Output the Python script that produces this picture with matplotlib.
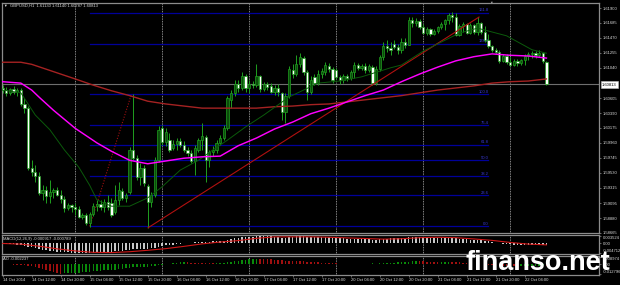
import matplotlib
matplotlib.use('Agg')
import matplotlib.pyplot as plt
from matplotlib.ticker import MultipleLocator
import numpy as np

W, H = 620, 285
plt.rcParams['font.family'] = ['Liberation Sans', 'DejaVu Sans']

# ---------------- data (GBPUSD H1) ----------------
opens = [1.6075, 1.6072, 1.6068, 1.6074, 1.6069, 1.6072, 1.6052, 1.6046, 1.5960, 1.5954,
         1.5948, 1.5924, 1.5928, 1.5920, 1.5925, 1.5928, 1.5921, 1.5915, 1.5902, 1.5907,
         1.5904, 1.5901, 1.5889, 1.5892, 1.5881, 1.5894, 1.5905, 1.5908, 1.5904, 1.5911,
         1.5910, 1.5897, 1.5914, 1.5927, 1.5917, 1.5925, 1.5986, 1.5974, 1.5947, 1.5960,
         1.5934, 1.5911, 1.5921, 1.5971, 1.6017, 1.5997, 1.6000, 1.5989, 1.5994, 1.5999,
         1.5993, 1.5986, 1.5982, 1.5970, 1.5986, 1.6000, 1.6004, 1.5971, 1.5983, 1.5986,
         1.5996, 1.6003, 1.6017, 1.6058, 1.6068, 1.6081, 1.6075, 1.6092, 1.6075, 1.6081,
         1.6079, 1.6092, 1.6074, 1.6081, 1.6078, 1.6069, 1.6075, 1.6068, 1.6040, 1.6064,
         1.6101, 1.6095, 1.6109, 1.6118, 1.6098, 1.6069, 1.6091, 1.6082, 1.6095, 1.6098,
         1.6107, 1.6102, 1.6101, 1.6091, 1.6086, 1.6092, 1.6089, 1.6098, 1.6108, 1.6104,
         1.6107, 1.6101, 1.6105, 1.6082, 1.6102, 1.6120, 1.6135, 1.6132, 1.6138, 1.6134,
         1.6130, 1.6141, 1.6137, 1.6173, 1.6168, 1.6171, 1.6163, 1.6154, 1.6160, 1.6153,
         1.6157, 1.6163, 1.6167, 1.6173, 1.6180, 1.6177, 1.6151, 1.6164, 1.6167, 1.6154,
         1.6166, 1.6156, 1.6168, 1.6156, 1.6144, 1.6135, 1.6130, 1.6127, 1.6114, 1.6121,
         1.6112, 1.6108, 1.6114, 1.6111, 1.6115, 1.6121, 1.6124, 1.6125, 1.6122, 1.6125,
         1.61130]
highs = [1.6079, 1.6076, 1.6075, 1.6078, 1.6075, 1.6075, 1.6061, 1.6049, 1.5971, 1.5964,
         1.5954, 1.5935, 1.5934, 1.5943, 1.5931, 1.5933, 1.5928, 1.5920, 1.5910, 1.5908,
         1.5910, 1.5905, 1.5895, 1.5895, 1.5897, 1.5910, 1.5914, 1.5914, 1.5915, 1.5921,
         1.5917, 1.5935, 1.5940, 1.5931, 1.5924, 1.5990, 1.6066, 1.5979, 1.5967, 1.5964,
         1.5937, 1.5925, 1.5976, 1.6020, 1.6022, 1.6017, 1.6010, 1.6000, 1.6003, 1.6003,
         1.5999, 1.5990, 1.5986, 1.5993, 1.6003, 1.6025, 1.6007, 1.5986, 1.5992, 1.6000,
         1.6007, 1.6022, 1.6064, 1.6072, 1.6086, 1.6086, 1.6098, 1.6095, 1.6086, 1.6085,
         1.6109, 1.6094, 1.6084, 1.6084, 1.6082, 1.6079, 1.6081, 1.6069, 1.6068, 1.6107,
         1.6109, 1.6122, 1.6125, 1.6121, 1.6101, 1.6092, 1.6095, 1.6101, 1.6104, 1.6112,
         1.6111, 1.6105, 1.6104, 1.6094, 1.6095, 1.6095, 1.6101, 1.6112, 1.6111, 1.6109,
         1.6111, 1.6109, 1.6108, 1.6107, 1.6122, 1.6141, 1.6144, 1.6141, 1.6144, 1.6138,
         1.6147, 1.6147, 1.6177, 1.6177, 1.6176, 1.6174, 1.6167, 1.6163, 1.6161, 1.6160,
         1.6164, 1.6170, 1.6174, 1.6183, 1.6184, 1.6183, 1.6167, 1.6170, 1.6168, 1.6168,
         1.6167, 1.6177, 1.6170, 1.6164, 1.6153, 1.6137, 1.6132, 1.6130, 1.6124, 1.6124,
         1.6120, 1.6117, 1.6117, 1.6117, 1.6124, 1.6127, 1.6128, 1.6128, 1.6130, 1.6127,
         1.61140]
lows = [1.6068, 1.6064, 1.6065, 1.6066, 1.6064, 1.6049, 1.6039, 1.5957, 1.5948, 1.5940,
        1.5921, 1.5914, 1.5910, 1.5910, 1.5917, 1.5920, 1.5910, 1.5897, 1.5900, 1.5897,
        1.5892, 1.5888, 1.5887, 1.5878, 1.5875, 1.5891, 1.5898, 1.5900, 1.5897, 1.5900,
        1.5889, 1.5894, 1.5907, 1.5914, 1.5911, 1.5923, 1.5971, 1.5943, 1.5935, 1.5934,
        1.5874, 1.5904, 1.5918, 1.5969, 1.5993, 1.5992, 1.5983, 1.5986, 1.5986, 1.5990,
        1.5983, 1.5977, 1.5967, 1.5950, 1.5983, 1.5986, 1.5940, 1.5961, 1.5977, 1.5982,
        1.5993, 1.6000, 1.6015, 1.6046, 1.6064, 1.6069, 1.6072, 1.6069, 1.6068, 1.6075,
        1.6076, 1.6069, 1.6071, 1.6072, 1.6068, 1.6065, 1.6064, 1.6029, 1.6025, 1.6061,
        1.6089, 1.6092, 1.6105, 1.6094, 1.6058, 1.6066, 1.6079, 1.6079, 1.6089, 1.6094,
        1.6098, 1.6082, 1.6088, 1.6081, 1.6082, 1.6085, 1.6086, 1.6089, 1.6101, 1.6101,
        1.6097, 1.6098, 1.6079, 1.6079, 1.6099, 1.6115, 1.6127, 1.6122, 1.6131, 1.6124,
        1.6125, 1.6132, 1.6137, 1.6163, 1.6164, 1.6160, 1.6153, 1.6151, 1.6150, 1.6151,
        1.6154, 1.6160, 1.6158, 1.6167, 1.6170, 1.6150, 1.6150, 1.6156, 1.6153, 1.6153,
        1.6153, 1.6151, 1.6153, 1.6141, 1.6132, 1.6127, 1.6124, 1.6111, 1.6112, 1.6109,
        1.6107, 1.6107, 1.6107, 1.6108, 1.6108, 1.6115, 1.6118, 1.6118, 1.6120, 1.6111,
        1.60787]
closes = [1.6072, 1.6068, 1.6074, 1.6069, 1.6072, 1.6052, 1.6046, 1.5960, 1.5954, 1.5948,
          1.5924, 1.5928, 1.5920, 1.5925, 1.5928, 1.5921, 1.5915, 1.5902, 1.5907, 1.5904,
          1.5901, 1.5889, 1.5892, 1.5881, 1.5894, 1.5905, 1.5908, 1.5904, 1.5911, 1.5904,
          1.5892, 1.5914, 1.5928, 1.5917, 1.5921, 1.5986, 1.5974, 1.5947, 1.5960, 1.5938,
          1.5911, 1.5921, 1.5971, 1.6015, 1.5997, 1.6012, 1.5986, 1.5994, 1.5999, 1.5993,
          1.5986, 1.5982, 1.5970, 1.5989, 1.6000, 1.6006, 1.5971, 1.5983, 1.5986, 1.5996,
          1.6003, 1.6017, 1.6061, 1.6068, 1.6081, 1.6075, 1.6092, 1.6075, 1.6081, 1.6079,
          1.6092, 1.6074, 1.6081, 1.6076, 1.6069, 1.6075, 1.6069, 1.6040, 1.6064, 1.6102,
          1.6095, 1.6109, 1.6120, 1.6098, 1.6069, 1.6086, 1.6082, 1.6095, 1.6099, 1.6108,
          1.6102, 1.6086, 1.6091, 1.6086, 1.6092, 1.6089, 1.6098, 1.6108, 1.6104, 1.6107,
          1.6101, 1.6107, 1.6082, 1.6102, 1.6120, 1.6135, 1.6132, 1.6130, 1.6134, 1.6130,
          1.6141, 1.6137, 1.6173, 1.6168, 1.6171, 1.6163, 1.6154, 1.6160, 1.6153, 1.6157,
          1.6163, 1.6167, 1.6173, 1.6180, 1.6177, 1.6151, 1.6164, 1.6167, 1.6154, 1.6166,
          1.6156, 1.6168, 1.6156, 1.6144, 1.6135, 1.6130, 1.6127, 1.6114, 1.6121, 1.6112,
          1.6108, 1.6114, 1.6111, 1.6115, 1.6121, 1.6124, 1.6125, 1.6122, 1.6125, 1.6114,
          1.60813]

# moving averages read at sample bars
ma_slow_bars = [0, 5, 8, 12, 16, 20, 25, 30, 35, 40, 45, 50, 55, 60, 65, 70, 75, 80, 85, 90,
                95, 100, 105, 110, 115, 120, 125, 130, 135, 140, 145, 150]
ma_slow = [1.6112, 1.6112, 1.6109, 1.6102, 1.6095, 1.6088, 1.6079, 1.6071, 1.6064, 1.6056,
           1.6052, 1.6049, 1.6046, 1.6046, 1.6046, 1.6046, 1.6048, 1.6049, 1.6051, 1.6052,
           1.6055, 1.6058, 1.6061, 1.6064, 1.6068, 1.6072, 1.6075, 1.6078, 1.6082, 1.6084,
           1.6085, 1.6088]
ma_mid_bars = [0, 5, 8, 10, 14, 20, 26, 30, 35, 40, 45, 50, 55, 60, 65, 70, 75, 80, 85, 90,
               95, 100, 105, 110, 115, 120, 125, 130, 135, 140, 145, 150]
ma_mid = [1.6084, 1.6082, 1.6072, 1.6062, 1.6043, 1.6017, 1.5996, 1.5984, 1.5971, 1.5966,
          1.5970, 1.5974, 1.5976, 1.5977, 1.5992, 1.6003, 1.6016, 1.6026, 1.6038, 1.6046,
          1.6055, 1.6064, 1.6072, 1.6084, 1.6095, 1.6105, 1.6114, 1.6120, 1.6124, 1.6122,
          1.6121, 1.6118]
ma_fast_bars = [0, 5, 9, 13, 17, 21, 24, 26, 30, 35, 40, 44, 49, 54, 58, 62, 67, 72, 79, 87,
                93, 99, 107, 110, 116, 126, 131, 139, 146, 150]
ma_fast = [1.6072, 1.6068, 1.6036, 1.6015, 1.5986, 1.5961, 1.5935, 1.5914, 1.5905, 1.5905,
           1.5917, 1.5933, 1.5957, 1.5971, 1.5986, 1.6000, 1.6019, 1.6036, 1.6062, 1.6082,
           1.6085, 1.6091, 1.6104, 1.6108, 1.6128, 1.6154, 1.6161, 1.6150, 1.6130, 1.6125]

# Fibonacci retracement
fib_levels = [0.0, 23.6, 38.2, 50.0, 61.8, 76.4, 100.0, 138.2, 161.8]
fib_low, fib_high = 1.5876, 1.6066
fib_anchor_bars = [24, 35.5]
fib_end_bar = 134
# trend line
trend_bars = [40.1, 131.4]
trend_prices = [1.5874, 1.6177]
bid_price = 1.60813

day_separator_bars = [20, 44, 68, 92, 116, 140]
time_tick_bars = [0, 8, 16, 24, 32, 40, 48, 56, 64, 72, 80, 88, 96, 104, 112, 120, 128, 136, 144]
time_tick_labels = ['14 Oct 2014', '14 Oct 12:00', '14 Oct 20:00', '15 Oct 04:00', '15 Oct 12:00',
                    '15 Oct 20:00', '16 Oct 04:00', '16 Oct 12:00', '16 Oct 20:00', '17 Oct 04:00',
                    '17 Oct 12:00', '17 Oct 20:00', '20 Oct 04:00', '20 Oct 12:00', '20 Oct 20:00',
                    '21 Oct 04:00', '21 Oct 12:00', '21 Oct 20:00', '22 Oct 04:00']
price_tick_labels = ['1.61900', '1.61685', '1.61470', '1.61255', '1.61040', '1.60605', '1.60390',
                     '1.60175', '1.59960', '1.59745', '1.59530', '1.59315', '1.59095', '1.58880',
                     '1.58665']

macd_hist = [-0.0002, -0.0003, -0.0004, -0.0005,
             -0.0007, -0.0009, -0.0012, -0.0016, -0.0020,
             -0.0024, -0.0028, -0.0031, -0.0034,
             -0.0036, -0.0038, -0.0040, -0.0041,
             -0.0043, -0.0044, -0.0045, -0.0046, -0.0046, -0.0047, -0.0047, -0.0046,
             -0.0045, -0.0044, -0.0043, -0.0042, -0.0041, -0.0040,
             -0.0039, -0.0037, -0.0036, -0.0034, -0.0031, -0.0029,
             -0.0028, -0.0027, -0.0026, -0.0026, -0.0024, -0.0021, -0.0016,
             -0.0013, -0.0010, -0.0008, -0.0006, -0.0004, -0.0002,
             0.0000, 0.0002, 0.0003, 0.0004, 0.0005, 0.0007,
             0.0007, 0.0008, 0.0009, 0.0010, 0.0011, 0.0013, 0.0017, 0.0021,
             0.0024, 0.0026, 0.0029, 0.0030, 0.0031, 0.0032, 0.0034,
             0.0034, 0.0034, 0.0034, 0.0033, 0.0032, 0.0031, 0.0027, 0.0027, 0.0030, 0.0032,
             0.0034, 0.0035, 0.0034, 0.0031, 0.0030, 0.0029, 0.0029, 0.0029, 0.0029, 0.0029, 0.0027,
             0.0026, 0.0025, 0.0024, 0.0023, 0.0023, 0.0023, 0.0022, 0.0022, 0.0021,
             0.0020, 0.0018, 0.0018, 0.0019, 0.0022, 0.0023, 0.0024, 0.0024, 0.0024, 0.0025,
             0.0025, 0.0029, 0.0031, 0.0032, 0.0031, 0.0030, 0.0029, 0.0028, 0.0027, 0.0026,
             0.0026, 0.0026, 0.0027, 0.0027, 0.0024, 0.0022, 0.0021, 0.0019, 0.0018, 0.0017,
             0.0017, 0.0015, 0.0012, 0.0009, 0.0006, 0.0003, 0.0000, -0.0002, -0.0004, -0.0005,
             -0.0006, -0.0007, -0.0007, -0.0007, -0.0007, -0.0007, -0.0007, -0.0007, -0.0008, -0.000917]
macd_signal_bars = [0, 5, 10, 15, 20, 25, 30, 35, 40, 45, 50, 55, 60, 65, 70, 75, 80, 85, 90, 95,
                    100, 105, 110, 115, 120, 125, 130, 135, 140, 145, 150]
macd_signal = [-0.0001, -0.0004, -0.0014, -0.0027, -0.0037, -0.0044, -0.0045, -0.0041, -0.0034,
               -0.0026, -0.0015, -0.0003, 0.0006, 0.0013, 0.0024, 0.0031, 0.0031, 0.0031, 0.0029,
               0.0026, 0.0023, 0.0020, 0.0022, 0.0027, 0.0029, 0.0027, 0.0021, 0.0014, 0.0004,
               -0.0004, -0.000789]
ao_values = [-0.0004, -0.0005, -0.0006, -0.0007, -0.0008, -0.0010, -0.0014, -0.0022,
             -0.0030, -0.0042, -0.0055, -0.0068, -0.0080, -0.0092, -0.0104, -0.0114, -0.0122,
             -0.0120, -0.0118, -0.0115, -0.0112, -0.0109, -0.0106, -0.0102, -0.0099, -0.0095,
             -0.0091, -0.0087, -0.0083, -0.0079, -0.0075, -0.0071, -0.0066, -0.0061, -0.0056, -0.0050, -0.0044,
             -0.0040, -0.0037, -0.0034, -0.0032, -0.0029, -0.0025, -0.0018, -0.0010,
             -0.0003, 0.0004, 0.0010, 0.0016, 0.0020, 0.0022,
             0.0021, 0.0019, 0.0017, 0.0015, 0.0013, 0.0011, 0.0010, 0.0009, 0.0010, 0.0012,
             0.0015, 0.0020, 0.0026, 0.0033, 0.0040, 0.0047, 0.0054, 0.0060, 0.0065, 0.0070,
             0.0069, 0.0066, 0.0063, 0.0060, 0.0056, 0.0052, 0.0048, 0.0044, 0.0042, 0.0040, 0.0038, 0.0036,
             0.0034, 0.0031, 0.0028, 0.0025, 0.0022, 0.0019, 0.0016, 0.0013,
             0.0010, 0.0008, 0.0006, 0.0005, 0.0004, 0.0004, 0.0005, 0.0006, 0.0006, 0.0005,
             0.0006, 0.0007, 0.0006, 0.0008, 0.0011, 0.0014, 0.0017, 0.0019, 0.0021, 0.0024,
             0.0027, 0.0031, 0.0035, 0.0036, 0.0035, 0.0033, 0.0031, 0.0029, 0.0027, 0.0026,
             0.0026, 0.0027, 0.0028, 0.0027, 0.0024, 0.0020, 0.0016, 0.0012, 0.0008, 0.0004,
             0.0001, -0.0003, -0.0007, -0.0011, -0.0015, -0.0019, -0.0022, -0.0025, -0.0028, -0.0030,
             -0.0031, -0.0030, -0.0029, -0.0028, -0.0026, -0.0024, -0.0022, -0.0020, -0.0019, -0.002237]

# ---------------- styling ----------------
BG = 'black'
FRAME = '#8c8c8c'
TXT = '#dcdcdc'
WICK = '#1f9f1f'
BULL = '#0c4d0c'
FS = 3.0

def px_axes(top, bottom):
    return [2 / W, 1 - bottom / H, 597 / W, (bottom - top) / H]

XMIN, XMAX = -0.193, 164.497

fig = plt.figure(figsize=(W / 100, H / 100), dpi=100, facecolor=BG)
ax = fig.add_axes(px_axes(3, 233), facecolor=BG)
mac = fig.add_axes(px_axes(235, 254), facecolor=BG)
aox = fig.add_axes(px_axes(256, 275), facecolor=BG)

for a in (ax, mac, aox):
    a.set_xlim(XMIN, XMAX)
    for s in a.spines.values():
        s.set_color(FRAME)
        s.set_linewidth(0.9)
    a.yaxis.tick_right()
    a.tick_params(axis='y', which='both', direction='out', colors='#b0b0b0',
                  labelcolor=TXT, labelsize=FS, length=1.5, width=0.4, pad=1.0)
    a.tick_params(axis='x', which='both', bottom=False, labelbottom=False)
    for b in day_separator_bars:
        a.axvline(b, color='#b4b4b4', lw=0.6, ls=(0, (1, 1)), zorder=1)

# main panel
ax.set_ylim(1.586645, 1.619719)
ax.set_yticks([float(t) for t in price_tick_labels])
ax.set_yticklabels(price_tick_labels)
ax.yaxis.set_minor_locator(MultipleLocator(0.00043))
ax.tick_params(axis='y', which='minor', length=0.8, width=0.3)

idx = np.arange(len(closes))
o = np.array(opens); c = np.array(closes); h = np.array(highs); l = np.array(lows)

# fibonacci levels
rng = fib_high - fib_low
for lev in fib_levels:
    p = fib_low + rng * lev / 100.0
    ax.plot([fib_anchor_bars[0], fib_end_bar], [p, p], color='#00009a', lw=0.9, zorder=2)
    ax.text(fib_end_bar, p + 0.00004, f'{lev:.1f}', color='#3a3ad8', fontsize=FS,
            ha='right', va='bottom', zorder=2)
ax.plot(fib_anchor_bars, [fib_low, fib_high], color='#a01010', lw=0.8, ls=(0, (1, 1.5)), zorder=2)

# bid line
ax.axhline(bid_price, color='#6e6e6e', lw=0.8, zorder=2)

# candles
ax.vlines(idx, l, h, color=WICK, lw=0.7, zorder=4)
bull = c >= o
bot = np.minimum(o, c)
hgt = np.maximum(np.abs(c - o), 0.00005)
ax.bar(idx[bull], hgt[bull], bottom=bot[bull], width=0.62, color=BULL, edgecolor=WICK,
       linewidth=0.5, zorder=5)
ax.bar(idx[~bull], hgt[~bull], bottom=bot[~bull], width=0.62, color='white', edgecolor=WICK,
       linewidth=0.5, zorder=5)

# trend line & moving averages
ax.plot(trend_bars, trend_prices, color='#b01010', lw=0.8, zorder=6)
ax.plot(ma_slow_bars, ma_slow, color='#a52222', lw=1.0, zorder=6)
ax.plot(ma_fast_bars, ma_fast, color='#0b5a0b', lw=0.7, zorder=6)
ax.plot(ma_mid_bars, ma_mid, color='#ff00ff', lw=1.05, zorder=7)

# MACD panel
mac.set_ylim(-0.005197, 0.004008)
mac.bar(idx, macd_hist, width=0.42, color='#c8c8c8', zorder=3)
mac.plot(macd_signal_bars, macd_signal, color='#d01818', lw=0.8, zorder=4)
mac.set_yticks([0.003524, 0.0, -0.004712])
mac.set_yticklabels(['0.003524', '0.00', '-0.004712'])
labs = mac.get_yticklabels()
labs[0].set_va('top'); labs[2].set_va('bottom')
mac.text(0.002, 0.8, 'MACD(12,26,9) -0.000917 -0.000789', transform=mac.transAxes,
         color=TXT, fontsize=FS, va='center', ha='left')

# AO panel
aox.set_ylim(-0.014077, 0.010255)
ao = np.array(ao_values)
ao_col = ['#a01010'] + ['#0a8a0a' if ao[i] >= ao[i - 1] else '#a01010' for i in range(1, len(ao))]
aox.bar(idx, ao, width=0.42, color=ao_col, zorder=3)
aox.set_yticks([0.008974, 0.0, -0.012796])
aox.set_yticklabels(['0.008974', '0.00', '-0.012796'])
labs = aox.get_yticklabels()
labs[0].set_va('top'); labs[2].set_va('bottom')
aox.text(0.002, 0.85, 'AO -0.002237', transform=aox.transAxes,
         color=TXT, fontsize=FS, va='center', ha='left')
aox.set_xticks(time_tick_bars)
aox.set_xticklabels(time_tick_labels)
aox.tick_params(axis='x', bottom=True, labelbottom=True, direction='out', length=1.5,
                width=0.4, colors='#b0b0b0', labelcolor=TXT, labelsize=FS, pad=1.0)
for t in aox.get_xticklabels():
    t.set_ha('left')

# header and markers
fig.text(3 / W, 1 - 5.5 / H, '\u25bc', color=TXT, fontsize=2.6, va='center', ha='left')
fig.text(10 / W, 1 - 5.5 / H, 'GBPUSD,H1  1.61130 1.61140 1.60787 1.60813', color=TXT,
         fontsize=FS, va='center', ha='left')
fig.text(491 / W, 1 - 3 / H, '\u25bc', color='#a0a0a0', fontsize=2.6, va='center', ha='center')

# current price box
fig.text(602 / W, 1 - 84.5 / H, '1.60813', color='black', fontsize=FS, va='center', ha='left',
         bbox=dict(boxstyle='square,pad=0.25', facecolor='white', edgecolor='#c0c0c0', lw=0.4))

# watermark
fig.text(465 / W, 1 - 270 / H, 'finanso.net', color='white', fontsize=19.5, fontweight='bold',
         va='baseline', ha='left')

fig.savefig('out.png', dpi=100, facecolor=BG)
